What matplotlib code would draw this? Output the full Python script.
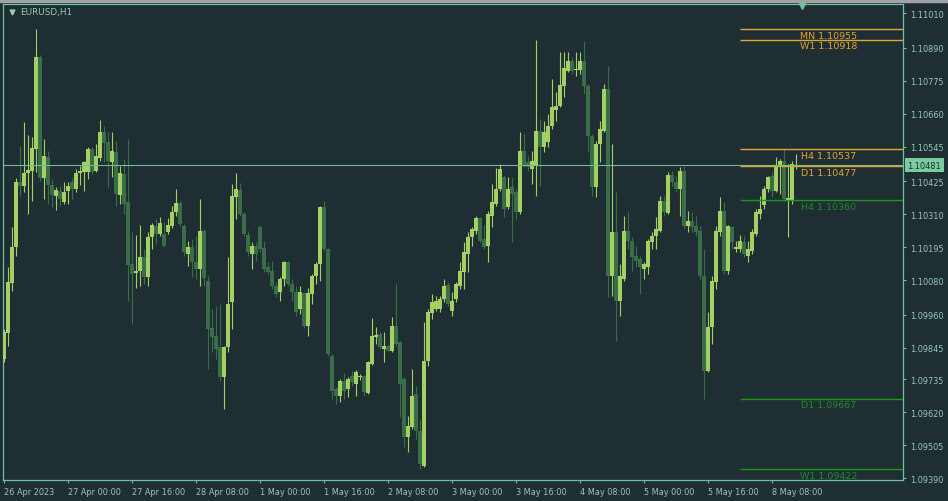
import matplotlib
matplotlib.use("Agg")
import matplotlib.pyplot as plt
import matplotlib.transforms as mtransforms
from matplotlib.patches import Rectangle

# EURUSD H1 bars, 26 Apr 08:00 .. 8 May 14:00
opens = [
    1.09806, 1.09895, 1.10070, 1.10195, 1.10422, 1.10410, 1.10454, 1.10462, 1.10538, 1.10858,
    1.10436, 1.10510, 1.10412, 1.10374, 1.10391, 1.10353, 1.10391, 1.10422, 1.10398, 1.10454,
    1.10457, 1.10457, 1.10537, 1.10461, 1.10506, 1.10597, 1.10562, 1.10492, 1.10527, 1.10377,
    1.10450, 1.10353, 1.10137, 1.10105, 1.10112, 1.10161, 1.10091, 1.10231, 1.10269, 1.10241,
    1.10241, 1.10248, 1.10269, 1.10318, 1.10349, 1.10269, 1.10172, 1.10196, 1.10144, 1.10119,
    1.10252, 1.10077, 1.09914, 1.09886, 1.09848, 1.09743, 1.09848, 1.10004, 1.10370, 1.10395,
    1.10311, 1.10238, 1.10172, 1.10199, 1.10266, 1.10192, 1.10126, 1.10112, 1.10060, 1.10039,
    1.10084, 1.10144, 1.10067, 1.10039, 1.09980, 1.10036, 1.09921, 1.10032, 1.10095, 1.10137,
    1.10335, 1.10189, 1.09816, 1.09701, 1.09677, 1.09729, 1.09701, 1.09747, 1.09719, 1.09743,
    1.09747, 1.09687, 1.09788, 1.09882, 1.09893, 1.09841, 1.09851, 1.09834, 1.09921, 1.09865,
    1.09736, 1.09534, 1.09569, 1.09684, 1.09555, 1.09433, 1.09799, 1.09966, 1.09980, 1.09980,
    1.10015, 1.10063, 1.09973, 1.10015, 1.10060, 1.10109, 1.10172, 1.10231, 1.10252, 1.10297,
    1.10224, 1.10199, 1.10304, 1.10346, 1.10398, 1.10440, 1.10335, 1.10405, 1.10388, 1.10318,
    1.10530, 1.10492, 1.10468, 1.10478, 1.10600, 1.10544, 1.10562, 1.10618, 1.10673, 1.10687,
    1.10757, 1.10809, 1.10844, 1.10813, 1.10813, 1.10844, 1.10757, 1.10583, 1.10405, 1.10555,
    1.10600, 1.10746, 1.10095, 1.10248, 1.10008, 1.10084, 1.10252, 1.10217, 1.10165, 1.10154,
    1.10119, 1.10126, 1.10213, 1.10234, 1.10252, 1.10356, 1.10315, 1.10447, 1.10422, 1.10398,
    1.10461, 1.10269, 1.10287, 1.10269, 1.10252, 1.10095, 1.09764, 1.09917, 1.10074, 1.10248,
    1.10321, 1.10112, 1.10266, 1.10189, 1.10189, 1.10213, 1.10165, 1.10182, 1.10241, 1.10311,
    1.10342, 1.10398, 1.10443, 1.10391, 1.10478, 1.10496, 1.10356, 1.10360, 1.10474,
]
highs = [
    1.09910, 1.10126, 1.10266, 1.10436, 1.10548, 1.10631, 1.10586, 1.10579, 1.10955, 1.10865,
    1.10572, 1.10530, 1.10433, 1.10405, 1.10408, 1.10422, 1.10422, 1.10436, 1.10468, 1.10478,
    1.10496, 1.10544, 1.10544, 1.10555, 1.10638, 1.10618, 1.10597, 1.10597, 1.10565, 1.10478,
    1.10503, 1.10572, 1.10248, 1.10238, 1.10273, 1.10189, 1.10248, 1.10280, 1.10294, 1.10300,
    1.10283, 1.10297, 1.10339, 1.10398, 1.10356, 1.10276, 1.10217, 1.10224, 1.10234, 1.10363,
    1.10259, 1.10095, 1.09980, 1.09991, 1.09997, 1.09851, 1.10161, 1.10415, 1.10454, 1.10419,
    1.10318, 1.10252, 1.10213, 1.10213, 1.10273, 1.10217, 1.10144, 1.10147, 1.10074, 1.10091,
    1.10147, 1.10147, 1.10084, 1.10060, 1.10060, 1.10039, 1.10053, 1.10102, 1.10144, 1.10339,
    1.10356, 1.10192, 1.09823, 1.09708, 1.09736, 1.09757, 1.09743, 1.09764, 1.09768, 1.09754,
    1.09750, 1.09799, 1.09949, 1.09917, 1.09900, 1.09900, 1.09858, 1.09952, 1.10067, 1.09868,
    1.09743, 1.09607, 1.09771, 1.09712, 1.09597, 1.09935, 1.09980, 1.10032, 1.10025, 1.10025,
    1.10084, 1.10074, 1.10039, 1.10074, 1.10144, 1.10213, 1.10248, 1.10266, 1.10304, 1.10300,
    1.10273, 1.10321, 1.10415, 1.10471, 1.10485, 1.10443, 1.10440, 1.10440, 1.10398, 1.10597,
    1.10590, 1.10513, 1.10530, 1.10918, 1.10642, 1.10635, 1.10660, 1.10781, 1.10736, 1.10875,
    1.10875, 1.10875, 1.10858, 1.10875, 1.10875, 1.10914, 1.10764, 1.10590, 1.10565, 1.10635,
    1.10764, 1.10827, 1.10555, 1.10388, 1.10137, 1.10304, 1.10318, 1.10231, 1.10199, 1.10165,
    1.10144, 1.10224, 1.10248, 1.10300, 1.10374, 1.10374, 1.10457, 1.10461, 1.10443, 1.10475,
    1.10478, 1.10321, 1.10318, 1.10304, 1.10269, 1.10189, 1.09970, 1.10095, 1.10269, 1.10370,
    1.10353, 1.10272, 1.10269, 1.10217, 1.10238, 1.10234, 1.10217, 1.10259, 1.10328, 1.10374,
    1.10409, 1.10443, 1.10457, 1.10510, 1.10503, 1.10537, 1.10485, 1.10496, 1.10520,
]
lows = [
    1.09795, 1.09851, 1.10043, 1.10165, 1.10374, 1.10388, 1.10311, 1.10356, 1.10457, 1.10426,
    1.10363, 1.10346, 1.10335, 1.10325, 1.10339, 1.10346, 1.10346, 1.10363, 1.10388, 1.10412,
    1.10391, 1.10433, 1.10450, 1.10457, 1.10496, 1.10492, 1.10405, 1.10440, 1.10339, 1.10346,
    1.10311, 1.10008, 1.09928, 1.10053, 1.10060, 1.10067, 1.10060, 1.10189, 1.10206, 1.10234,
    1.10196, 1.10241, 1.10262, 1.10304, 1.10269, 1.10165, 1.10130, 1.10091, 1.10084, 1.10060,
    1.10060, 1.09771, 1.09830, 1.09806, 1.09729, 1.09632, 1.09830, 1.09910, 1.10294, 1.10304,
    1.10234, 1.10165, 1.10119, 1.10147, 1.10179, 1.10109, 1.10102, 1.10050, 1.10022, 1.10008,
    1.10060, 1.10060, 1.10008, 1.09956, 1.09963, 1.09914, 1.09886, 1.09997, 1.10067, 1.10077,
    1.10182, 1.09816, 1.09666, 1.09649, 1.09656, 1.09666, 1.09673, 1.09712, 1.09677, 1.09733,
    1.09677, 1.09684, 1.09785, 1.09858, 1.09841, 1.09795, 1.09834, 1.09830, 1.09851, 1.09604,
    1.09499, 1.09482, 1.09562, 1.09527, 1.09422, 1.09430, 1.09781, 1.09945, 1.09973, 1.09970,
    1.10004, 1.09990, 1.09956, 1.10004, 1.10050, 1.10050, 1.10109, 1.10199, 1.10241, 1.10213,
    1.10189, 1.10144, 1.10266, 1.10339, 1.10391, 1.10300, 1.10328, 1.10213, 1.10294, 1.10311,
    1.10475, 1.10461, 1.10415, 1.10374, 1.10408, 1.10527, 1.10544, 1.10607, 1.10635, 1.10684,
    1.10719, 1.10806, 1.10799, 1.10792, 1.10799, 1.10729, 1.10527, 1.10374, 1.10370, 1.10492,
    1.10597, 1.10022, 1.10025, 1.09868, 1.09956, 1.10077, 1.10189, 1.10112, 1.10126, 1.10032,
    1.10084, 1.10102, 1.10189, 1.10189, 1.10248, 1.10304, 1.10311, 1.10408, 1.10388, 1.10304,
    1.10259, 1.10248, 1.10248, 1.10234, 1.10084, 1.09667, 1.09761, 1.09858, 1.10050, 1.10234,
    1.10102, 1.10102, 1.10189, 1.10178, 1.10179, 1.10161, 1.10144, 1.10172, 1.10234, 1.10294,
    1.10328, 1.10388, 1.10370, 1.10388, 1.10381, 1.10356, 1.10231, 1.10346, 1.10467,
]
closes = [
    1.09900, 1.10074, 1.10196, 1.10422, 1.10408, 1.10454, 1.10464, 1.10541, 1.10858, 1.10436,
    1.10513, 1.10412, 1.10377, 1.10395, 1.10363, 1.10388, 1.10408, 1.10398, 1.10454, 1.10461,
    1.10492, 1.10537, 1.10457, 1.10513, 1.10597, 1.10558, 1.10496, 1.10530, 1.10381, 1.10454,
    1.10346, 1.10133, 1.10102, 1.10112, 1.10161, 1.10091, 1.10231, 1.10273, 1.10241, 1.10280,
    1.10199, 1.10273, 1.10318, 1.10349, 1.10276, 1.10179, 1.10196, 1.10144, 1.10119, 1.10252,
    1.10088, 1.09910, 1.09882, 1.09841, 1.09743, 1.09848, 1.09997, 1.10374, 1.10398, 1.10311,
    1.10241, 1.10179, 1.10199, 1.10172, 1.10189, 1.10119, 1.10109, 1.10060, 1.10032, 1.10084,
    1.10144, 1.10067, 1.10039, 1.09969, 1.10039, 1.09921, 1.10036, 1.10095, 1.10137, 1.10335,
    1.10189, 1.09823, 1.09694, 1.09677, 1.09729, 1.09694, 1.09736, 1.09726, 1.09761, 1.09747,
    1.09691, 1.09795, 1.09886, 1.09889, 1.09848, 1.09851, 1.09834, 1.09921, 1.09858, 1.09719,
    1.09534, 1.09572, 1.09677, 1.09555, 1.09440, 1.09799, 1.09970, 1.10004, 1.10008, 1.10015,
    1.10060, 1.09997, 1.10008, 1.10067, 1.10112, 1.10179, 1.10231, 1.10259, 1.10297, 1.10217,
    1.10196, 1.10311, 1.10353, 1.10398, 1.10468, 1.10328, 1.10398, 1.10381, 1.10318, 1.10530,
    1.10478, 1.10475, 1.10496, 1.10600, 1.10544, 1.10597, 1.10618, 1.10684, 1.10687, 1.10760,
    1.10820, 1.10844, 1.10809, 1.10816, 1.10844, 1.10757, 1.10583, 1.10405, 1.10555, 1.10607,
    1.10746, 1.10095, 1.10248, 1.10008, 1.10095, 1.10252, 1.10217, 1.10161, 1.10147, 1.10126,
    1.10137, 1.10217, 1.10234, 1.10259, 1.10356, 1.10318, 1.10447, 1.10422, 1.10398, 1.10461,
    1.10269, 1.10287, 1.10266, 1.10248, 1.10095, 1.09764, 1.09917, 1.10077, 1.10252, 1.10321,
    1.10112, 1.10269, 1.10213, 1.10196, 1.10217, 1.10172, 1.10189, 1.10248, 1.10318, 1.10328,
    1.10398, 1.10440, 1.10391, 1.10478, 1.10496, 1.10363, 1.10367, 1.10485, 1.10481,
]

time_ticks = [0, 16, 32, 48, 64, 80, 96, 112, 128, 144, 160, 176, 192]
time_labels = ["26 Apr 2023", "27 Apr 00:00", "27 Apr 16:00", "28 Apr 08:00",
               "1 May 00:00", "1 May 16:00", "2 May 08:00", "3 May 00:00",
               "3 May 16:00", "4 May 08:00", "5 May 00:00", "5 May 16:00",
               "8 May 08:00"]
price_ticks = [1.11010, 1.10890, 1.10775, 1.10660, 1.10545, 1.10425, 1.10310,
               1.10195, 1.10080, 1.09960, 1.09845, 1.09735, 1.09620, 1.09505,
               1.09390]

bid = 1.10481
upper_names = ["MN", "W1", "H4", "D1"]
upper_levels = [1.10955, 1.10918, 1.10537, 1.10477]
lower_names = ["H4", "D1", "W1"]
lower_levels = [1.10360, 1.09667, 1.09422]

BG = "#1f2e33"
BULL = "#a4d063"
BEAR = "#3a6e48"
AXIS = "#70c0a4"
TXT = "#98c9b8"
ORANGE = "#e0a630"
GREEN = "#179a17"
GREEN_TXT = "#1e8a2a"

fig = plt.figure(figsize=(9.48, 5.02), dpi=100, facecolor=BG)
ax = fig.add_axes([3 / 948, 21 / 502, 900 / 948, 476 / 502], facecolor=BG)

n = len(opens)
for i in range(n):
    o, h, l, c = opens[i], highs[i], lows[i], closes[i]
    col = BULL if c >= o else BEAR
    ax.vlines(i, l, h, color=col, lw=0.8, zorder=2)
    ax.bar(i, max(abs(c - o), 0.00003), bottom=min(o, c), width=0.8,
           color=col, linewidth=0, zorder=3)

# current bid line
ax.axhline(bid, color="#6cbca0", lw=0.8, zorder=4)

# pivot levels on the right
lx0, lxc = 184, 206.1
for name, lv in zip(upper_names, upper_levels):
    ax.hlines(lv, lx0, 224.75, color=ORANGE, lw=1.0, zorder=5)
    ax.annotate(f"{name} {lv:.5f}", xy=(lxc, lv), xytext=(0, -1.2),
                textcoords="offset points", ha="center", va="top",
                fontsize=6.8, color=ORANGE, zorder=6)
for name, lv in zip(lower_names, lower_levels):
    ax.hlines(lv, lx0, 224.75, color=GREEN, lw=1.0, zorder=5)
    ax.annotate(f"{name} {lv:.5f}", xy=(lxc, lv), xytext=(0, -1.2),
                textcoords="offset points", ha="center", va="top",
                fontsize=6.8, color=GREEN_TXT, zorder=6)

ax.set_xlim(-0.25, 224.75)
ax.set_ylim(1.093842, 1.110426)

for s in ax.spines.values():
    s.set_color(AXIS)
    s.set_linewidth(0.9)

ax.yaxis.tick_right()
ax.set_yticks(price_ticks)
ax.set_yticklabels([f"{p:.5f}" for p in price_ticks])
ax.set_xticks(time_ticks)
ax.set_xticklabels(time_labels)
for lab in ax.get_xticklabels():
    lab.set_horizontalalignment("left")
ax.tick_params(axis="both", colors=AXIS, labelcolor=TXT, labelsize=5.9,
               length=2.5, width=0.8, direction="out")
ax.tick_params(axis="x", pad=2.5)
ax.tick_params(axis="y", pad=2.5)

# bid price box on the scale
trans = mtransforms.blended_transform_factory(ax.transAxes, ax.transData)
ax.text(1.0 + 4.5 / 900, bid, f"{bid:.5f}", transform=trans, ha="left",
        va="center", fontsize=5.9, color="#1c2e2c", zorder=10, clip_on=False,
        bbox=dict(boxstyle="square,pad=0.3", fc="#7ccaa0", ec="none"))

# chart shift marker and symbol caption
ax.plot([199.5], [0.995], marker="v", markersize=4.5, color=AXIS,
        transform=mtransforms.blended_transform_factory(ax.transData, ax.transAxes),
        clip_on=False, zorder=10)
ax.plot([9 / 900], [1 - 8 / 476], marker="v", markersize=3.5, color=TXT,
        transform=ax.transAxes, clip_on=False, zorder=10)
ax.text(17 / 900, 1 - 8 / 476, "EURUSD,H1", transform=ax.transAxes,
        ha="left", va="center", fontsize=6.4, color=TXT, zorder=10)

fig.add_artist(Rectangle((0, 1 - 3 / 502), 1, 3 / 502, transform=fig.transFigure,
                         color="#a0a4a4", zorder=0))

fig.savefig("out.png", dpi=100, facecolor=BG)
